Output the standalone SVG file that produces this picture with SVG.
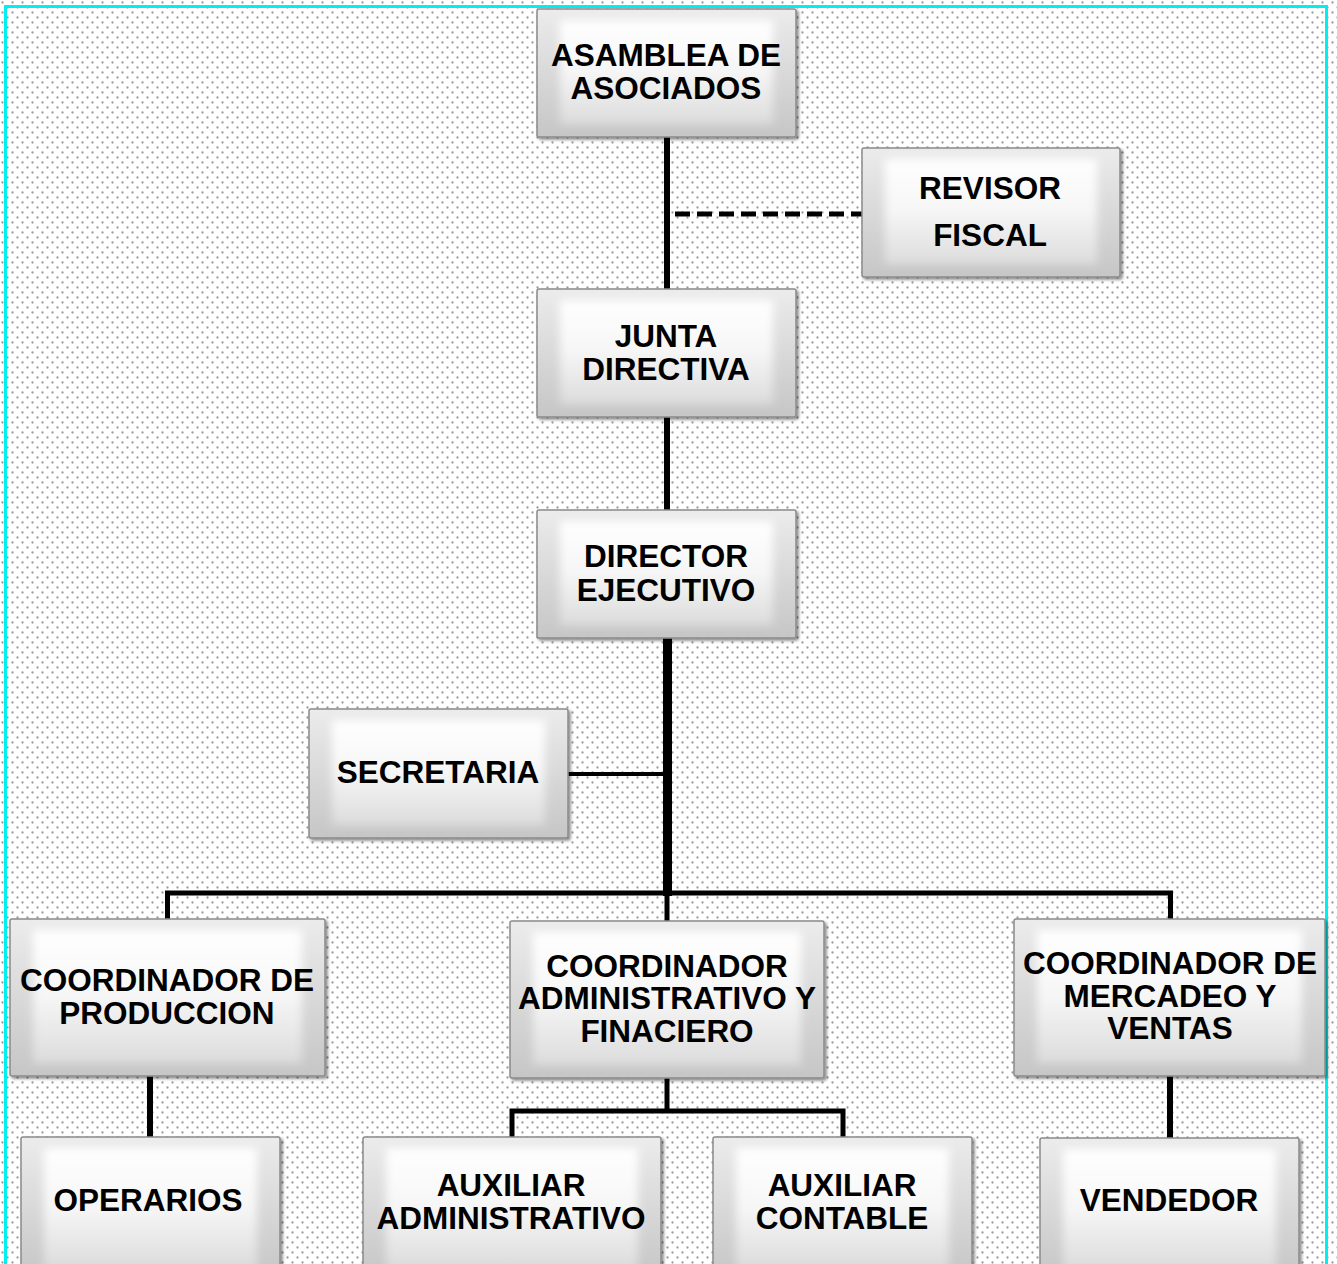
<svg xmlns="http://www.w3.org/2000/svg" width="1337" height="1264" viewBox="0 0 1337 1264">
<defs>
<pattern id="dots" width="10" height="10" patternUnits="userSpaceOnUse">
<rect width="10" height="10" fill="#ffffff"/>
<circle cx="2.5" cy="2.5" r="1.15" fill="#9c9c9c"/>
<circle cx="7.5" cy="7.5" r="1.15" fill="#9c9c9c"/>
</pattern>
<linearGradient id="outerG" x1="0" y1="0" x2="0" y2="1">
<stop offset="0" stop-color="#ececec"/>
<stop offset="1" stop-color="#c6c6c6"/>
</linearGradient>
<linearGradient id="innerG" x1="0" y1="0" x2="0" y2="1">
<stop offset="0" stop-color="#ffffff"/>
<stop offset="0.5" stop-color="#f6f6f6"/>
<stop offset="1" stop-color="#dcdcdc"/>
</linearGradient>
<filter id="shadow" x="-5%" y="-5%" width="112%" height="115%">
<feDropShadow dx="2" dy="2" stdDeviation="1.5" flood-color="#000" flood-opacity="0.45"/>
</filter>
<filter id="soft" x="-10%" y="-10%" width="120%" height="120%">
<feGaussianBlur stdDeviation="4"/>
</filter>
</defs>
<style>
.box{fill:url(#outerG);stroke:#8a8a8a;stroke-width:1.5;filter:url(#shadow)}
.bev{fill:url(#innerG);filter:url(#soft)}
.t{font-family:"Liberation Sans",Arial,sans-serif;font-weight:bold;font-size:31.5px;fill:#000;text-anchor:middle}
.ln{stroke:#000;fill:none;stroke-linecap:butt}
</style>
<rect x="0" y="0" width="1337" height="1264" fill="url(#dots)"/>
<rect x="5.5" y="6.5" width="1321" height="1275" fill="none" stroke="#00f0f0" stroke-width="3"/>

<g id="connectors">
<line class="ln" x1="667" y1="137" x2="667" y2="289" stroke-width="6"/>
<line class="ln" x1="675" y1="214" x2="862" y2="214" stroke-width="5" stroke-dasharray="15 7"/>
<line class="ln" x1="667" y1="417" x2="667" y2="510" stroke-width="6"/>
<line class="ln" x1="667.5" y1="638" x2="667.5" y2="896" stroke-width="9"/>
<line class="ln" x1="568" y1="774" x2="664" y2="774" stroke-width="4"/>
<polyline class="ln" points="167.5,919 167.5,893 1170.5,893 1170.5,919" stroke-width="5"/>
<line class="ln" x1="667" y1="893" x2="667" y2="921" stroke-width="5"/>
<line class="ln" x1="150" y1="1076" x2="150" y2="1137" stroke-width="6"/>
<line class="ln" x1="667" y1="1078" x2="667" y2="1111" stroke-width="5"/>
<polyline class="ln" points="512,1137 512,1111 843,1111 843,1137" stroke-width="5"/>
<line class="ln" x1="1170" y1="1076" x2="1170" y2="1138" stroke-width="6"/>
</g>

<g id="asamblea">
<rect class="box" x="537" y="9" width="259" height="128" rx="2"/>
<rect class="bev" x="560" y="20" width="213" height="104"/>
<text class="t" x="666" y="66">ASAMBLEA DE</text>
<text class="t" x="666" y="99">ASOCIADOS</text>
</g>
<g id="revisor">
<rect class="box" x="862" y="148" width="258" height="129" rx="2"/>
<rect class="bev" x="885" y="159" width="212" height="105"/>
<text class="t" x="990" y="199">REVISOR</text>
<text class="t" x="990" y="246">FISCAL</text>
</g>
<g id="junta">
<rect class="box" x="537" y="289" width="259" height="128" rx="2"/>
<rect class="bev" x="560" y="300" width="213" height="104"/>
<text class="t" x="666" y="347">JUNTA</text>
<text class="t" x="666" y="380">DIRECTIVA</text>
</g>
<g id="director">
<rect class="box" x="537" y="510" width="259" height="128" rx="2"/>
<rect class="bev" x="560" y="521" width="213" height="104"/>
<text class="t" x="666" y="567">DIRECTOR</text>
<text class="t" x="666" y="601">EJECUTIVO</text>
</g>
<g id="secretaria">
<rect class="box" x="309" y="709" width="259" height="129" rx="2"/>
<rect class="bev" x="332" y="720" width="213" height="105"/>
<text class="t" x="438" y="783">SECRETARIA</text>
</g>
<g id="coord-produccion">
<rect class="box" x="10" y="919" width="315" height="157" rx="2"/>
<rect class="bev" x="33" y="930" width="269" height="133"/>
<text class="t" x="167" y="991">COORDINADOR DE</text>
<text class="t" x="167" y="1024">PRODUCCION</text>
</g>
<g id="coord-administrativo">
<rect class="box" x="510" y="921" width="314" height="157" rx="2"/>
<rect class="bev" x="533" y="932" width="268" height="133"/>
<text class="t" x="667" y="977">COORDINADOR</text>
<text class="t" x="667" y="1009">ADMINISTRATIVO Y</text>
<text class="t" x="667" y="1042">FINACIERO</text>
</g>
<g id="coord-mercadeo">
<rect class="box" x="1014" y="919" width="311" height="157" rx="2"/>
<rect class="bev" x="1037" y="930" width="265" height="133"/>
<text class="t" x="1170" y="974">COORDINADOR DE</text>
<text class="t" x="1170" y="1007">MERCADEO Y</text>
<text class="t" x="1170" y="1039">VENTAS</text>
</g>
<g id="operarios">
<rect class="box" x="21" y="1137" width="259" height="140" rx="2"/>
<rect class="bev" x="44" y="1148" width="213" height="120"/>
<text class="t" x="148" y="1211">OPERARIOS</text>
</g>
<g id="auxiliar-administrativo">
<rect class="box" x="363" y="1137" width="298" height="140" rx="2"/>
<rect class="bev" x="386" y="1148" width="252" height="120"/>
<text class="t" x="511" y="1196">AUXILIAR</text>
<text class="t" x="511" y="1229">ADMINISTRATIVO</text>
</g>
<g id="auxiliar-contable">
<rect class="box" x="713" y="1137" width="259" height="140" rx="2"/>
<rect class="bev" x="736" y="1148" width="213" height="120"/>
<text class="t" x="842" y="1196">AUXILIAR</text>
<text class="t" x="842" y="1229">CONTABLE</text>
</g>
<g id="vendedor">
<rect class="box" x="1040" y="1138" width="259" height="140" rx="2"/>
<rect class="bev" x="1063" y="1149" width="213" height="120"/>
<text class="t" x="1169" y="1211">VENDEDOR</text>
</g>
</svg>
